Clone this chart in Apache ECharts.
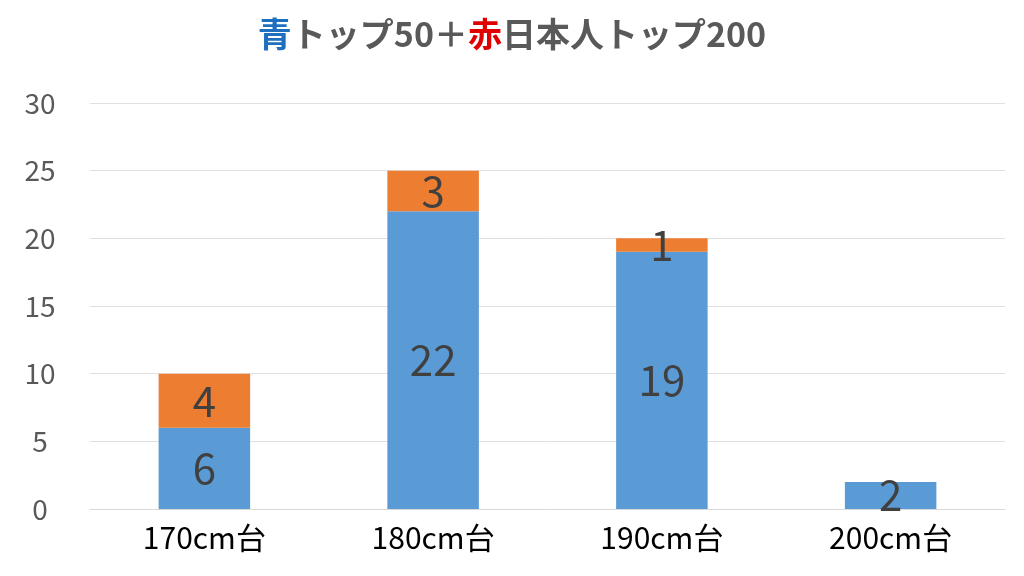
<!DOCTYPE html>
<html><head><meta charset="utf-8">
<script src="https://cdn.jsdelivr.net/npm/echarts@6/dist/echarts.min.js"></script>
<style>html,body{margin:0;padding:0;background:#fff}#c{width:1024px;height:576px}</style>
</head><body><div id="c"></div>
<script>
const categories = ['170cm台','180cm台','190cm台','200cm台'];
const blueTop50 = [6, 22, 19, 2];
const redJapanTop200 = [4, 3, 1, 0];
const yTicks = [0, 5, 10, 15, 20, 25, 30];

const chart = echarts.init(document.getElementById('c'));
const lbl = {
  show: true, position: 'inside', fontSize: 42, color: '#404040',
  fontFamily: 'Noto Sans CJK JP',
  formatter: p => p.value === 0 ? '' : String(p.value)
};
chart.setOption({
  animation: false,
  title: {
    left: 'center', top: 12,
    text: '{b|青}{g|トップ50＋}{r|赤}{g|日本人トップ200}',
    textStyle: {
      rich: {
        b: {color: '#1f6fc0', fontSize: 34, fontFamily: 'Noto Sans CJK JP'},
        r: {color: '#e00000', fontSize: 34, fontFamily: 'Noto Sans CJK JP'},
        g: {color: '#595959', fontSize: 34, fontFamily: 'Noto Sans CJK JP'}
      }
    }
  },
  grid: {left: 90, right: 19, top: 103, bottom: 67},
  xAxis: {
    type: 'category', data: categories,
    axisTick: {show: false},
    axisLine: {lineStyle: {color: '#d9d9d9'}},
    axisLabel: {fontSize: 30, color: '#000', margin: 14, fontFamily: 'Noto Sans CJK JP'}
  },
  yAxis: {
    type: 'value', min: yTicks[0], max: yTicks[yTicks.length-1], interval: 5,
    axisLine: {show: false}, axisTick: {show: false},
    splitLine: {lineStyle: {color: '#e0e0e0'}},
    axisLabel: {fontSize: 28, color: '#595959', margin: 50, align: 'center', fontFamily: 'Noto Sans CJK JP'}
  },
  series: [
    {type: 'bar', stack: 's', data: blueTop50, barWidth: '40%',
     itemStyle: {color: '#5b9bd5'}, label: lbl},
    {type: 'bar', stack: 's', data: redJapanTop200, barWidth: '40%',
     itemStyle: {color: '#ed7d31'}, label: lbl}
  ]
});
</script></body></html>
